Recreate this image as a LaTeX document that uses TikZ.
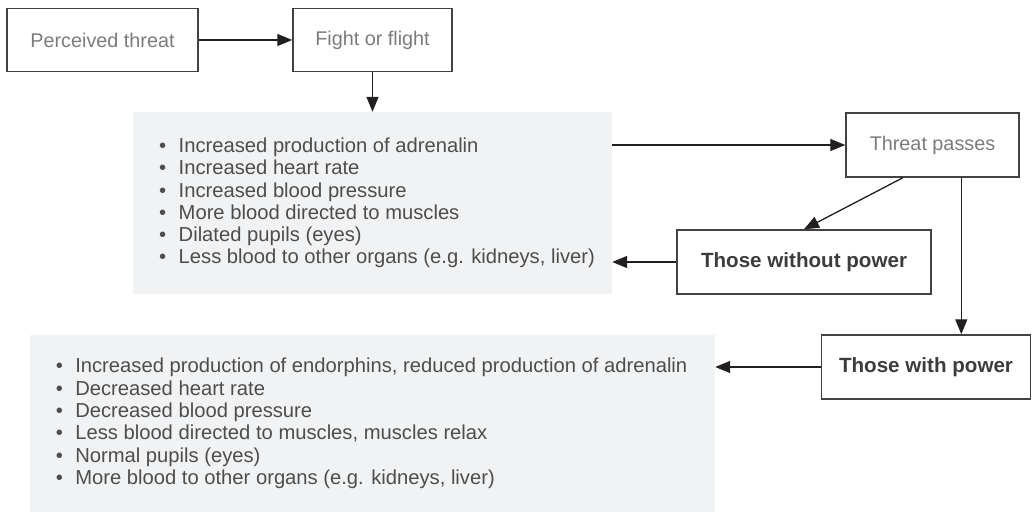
\documentclass[tikz,border=0pt]{standalone}
\usepackage{fontspec}
\setmainfont{Liberation Sans}
\usetikzlibrary{arrows.meta,calc}
\definecolor{panel}{HTML}{F1F2F4}
\definecolor{inkline}{HTML}{231F20}
\definecolor{softtext}{HTML}{7B7B7B}
\definecolor{listtext}{HTML}{4D4D4D}
\definecolor{strongtext}{HTML}{3C3C3C}
% bullet followed by a fixed indent
\newcommand\bulletitem{\makebox[19.5pt][l]{\textbullet}}

\begin{document}
\begin{tikzpicture}[x=1pt,y=-1pt,
  font=\fontsize{19.8}{22.3}\selectfont,
  box/.style={draw=inkline!85, line width=1.5pt, inner sep=0pt, text=softtext},
  strongbox/.style={box, text=strongtext, font=\fontsize{20.6}{22.3}\selectfont\bfseries},
  panelbox/.style={fill=panel, inner sep=0pt},
  itemlist/.style={align=left, inner sep=0pt, text=listtext, anchor=west,
    font=\fontsize{20.2}{22.3}\selectfont},
  arr/.style={draw=inkline, line width=1.3pt, -{Triangle[length=15pt,width=12pt]}}
]
\useasboundingbox (0,0) rectangle (1032,513);

% process boxes
\node[box, minimum width=191pt, minimum height=63pt] (pt) at (102.5,40) {Perceived threat};
\node[box, minimum width=159pt, minimum height=63pt] (ff) at (372.5,40) {Fight or flight};
\node[box, minimum width=173pt, minimum height=64pt] (tp) at (932.5,145) {Threat passes};
\node[strongbox, minimum width=254pt, minimum height=64pt] (wo) at (804,262) {Those without power};
\node[strongbox, minimum width=209pt, minimum height=64pt] (wp) at (926,367) {Those with power};

% shaded panels with the body responses
\node[panelbox, minimum width=479pt, minimum height=182pt] (g1) at (372.5,203) {};
\node[panelbox, minimum width=685pt, minimum height=177pt] (g2) at (372.5,423.5) {};

\node[itemlist] (l1) at (159,203) {%
  \bulletitem Increased production of adrenalin\\
  \bulletitem Increased heart rate\\
  \bulletitem Increased blood pressure\\
  \bulletitem More blood directed to muscles\\
  \bulletitem Dilated pupils (eyes)\\
  \bulletitem Less blood to other organs (e.g. kidneys, liver)};

\node[itemlist] (l2) at (55.6,423.5) {%
  \bulletitem Increased production of endorphins, reduced production of adrenalin\\
  \bulletitem Decreased heart rate\\
  \bulletitem Decreased blood pressure\\
  \bulletitem Less blood directed to muscles, muscles relax\\
  \bulletitem Normal pupils (eyes)\\
  \bulletitem More blood to other organs (e.g. kidneys, liver)};

% connectors
\draw[arr] (pt) -- (ff);
\draw[arr] (ff) -- (ff |- g1.north);
\draw[arr] (g1.east |- tp.west) -- (tp.west);
\draw[arr] ($(tp.south west)!0.33!(tp.south east)$) -- (wo.north);
\draw[arr] (wo.west) -- (wo.west -| g1.east);
\coordinate (split) at ($(tp.south west)!0.665!(tp.south east)$);
\draw[arr] (split) -- (split |- wp.north);
\draw[arr] (wp.west) -- (wp.west -| g2.east);
\end{tikzpicture}
\end{document}
